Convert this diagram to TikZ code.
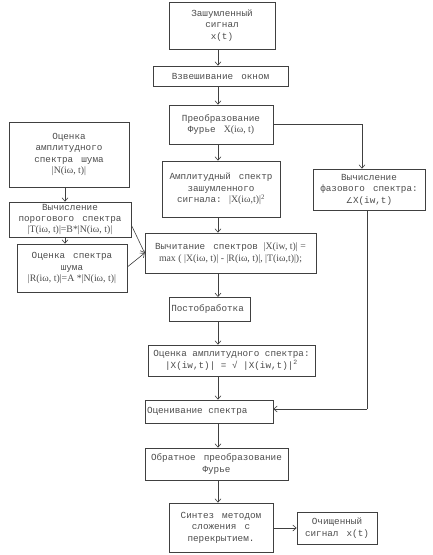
\documentclass[tikz,border=0pt]{standalone}
\usepackage{fontspec}
\setmainfont{Liberation Mono}
\newfontfamily\tms{Liberation Serif}
\newfontfamily\djv{DejaVu Sans}
\usetikzlibrary{arrows.meta}
\newcommand{\xs}{\hspace{2.5pt}}
\begin{document}
\begin{tikzpicture}[x=1pt,y=-1pt,
  box/.style={draw=black!75, line width=0.6pt, rectangle, inner sep=2pt, align=center,
    font=\fontsize{9.3}{11.4}\selectfont, text=black!70},
  lbox/.style={box, align=left},
  arr/.style={draw=black!75, line width=0.6pt, -{Straight Barb[length=3.5pt,width=6pt]}},
  ln/.style={draw=black!75, line width=0.6pt}]
\useasboundingbox (0,0) rectangle (432,555);
\newcommand{\tf}[1]{{\tms\fontsize{9.8}{11.4}\selectfont #1}}
% main column
\node[box, minimum width=106, minimum height=47] (n1) at (222,25.5) {Зашумленный\\сигнал\\x(t)};
\node[box, minimum width=135, minimum height=20] (n2) at (220.5,76) {Взвешивание\xs{} окном};
\node[box, minimum width=104, minimum height=39] (n3) at (221,124.5) {Преобразование\\Фурье\xs{} \tf{X(iω, t)}};
\node[box, minimum width=118, minimum height=56] (n4) at (221,189) {Амплитудный\xs{} спектр\\зашумленного\\сигнала: \tf{|X(iω,t)|\textsuperscript{2}}};
\node[box, minimum width=171, minimum height=40] (n8) at (230.5,253) {Вычитание\xs{} спектров \tf{|X(iw, t)| =}\\\tf{max ( |X(iω, t)| - |R(iω, t)|, |T(iω,t)|);}};
\node[lbox, minimum width=81, minimum height=24, text width=77, anchor=north west] (n10) at (169,297) {Постобработка};
\node[box, minimum width=167, minimum height=31] (n11) at (231.5,360.5) {Оценка амплитудного спектра:\\|X(iw,t)| = √ |X(iw,t)|\textsuperscript{2}};
\node[lbox, minimum width=128, minimum height=23, text width=124] (n12) at (209,411.5) {Оценивание\xs{} спектра};
\node[box, minimum width=143, minimum height=32] (n13) at (216.5,464) {Обратное\xs{} преобразование\\Фурье};
\node[box, minimum width=104, minimum height=49] (n14) at (221,527.5) {Синтез\xs{} методом\\сложения\xs{} с\\перекрытием.};
\node[box, minimum width=80, minimum height=32] (n15) at (337,528) {Очищенный\\сигнал\xs{} x(t)};
% left column
\node[box, minimum width=120, minimum height=65] (n5) at (69,154.5) {Оценка\\амплитудного\\спектра\xs{} шума\\\tf{|N(iω, t)|}};
\node[box, minimum width=122, minimum height=35] (n6) at (70,219.5) {Вычисление\\порогового\xs{} спектра\\\tf{|T(iω, t)|=B*|N(iω, t)|}};
\node[box, minimum width=110, minimum height=48] (n7) at (72,268) {Оценка\xs{} спектра\\шума\\\tf{|R(iω, t)|=A *|N(iω, t)|}};
% right column
\node[box, minimum width=112, minimum height=41] (n9) at (369,189.5) {Вычисление\\фазового\xs{} спектра:\\{\djv\fontsize{8}{10}\selectfont ∠}X(iw,t)};
% coordinates
\coordinate (X) at (218,0);
\coordinate (L) at (65,0);
\coordinate (pa) at (362,124.5);
\coordinate (pb) at (367,409);
% main arrows
\draw[arr] (n1.south -| X) -- (n2.north -| X);
\draw[arr] (n2.south -| X) -- (n3.north -| X);
\draw[arr] (n3.south -| X) -- (n4.north -| X);
\draw[arr] (n4.south -| X) -- (n8.north -| X);
\draw[arr] (n8.south -| X) -- (n10.north -| X);
\draw[arr] (n10.south -| X) -- (n11.north -| X);
\draw[arr] (n11.south -| X) -- (n12.north -| X);
\draw[arr] (n12.south -| X) -- (n13.north -| X);
\draw[arr] (n13.south -| X) -- (n14.north -| X);
\draw[arr] (n14.east |- n15.west) -- (n15.west);
% left arrows
\draw[arr] (n5.south -| L) -- (n6.north -| L);
\draw[arr] (n6.south -| L) -- (n7.north -| L);
\draw[arr] (n6.east |- 0,225) -- (n8.west);
\draw[arr] (n7.east |- 0,267) -- (n8.west);
% phase path
\draw[arr] (n3.east) -- (pa) -- (pa |- n9.north);
\draw[ln] (n9.south -| pb) -- (pb);
\draw[arr] (pb) -- (n12.east |- pb);
\end{tikzpicture}
\end{document}
